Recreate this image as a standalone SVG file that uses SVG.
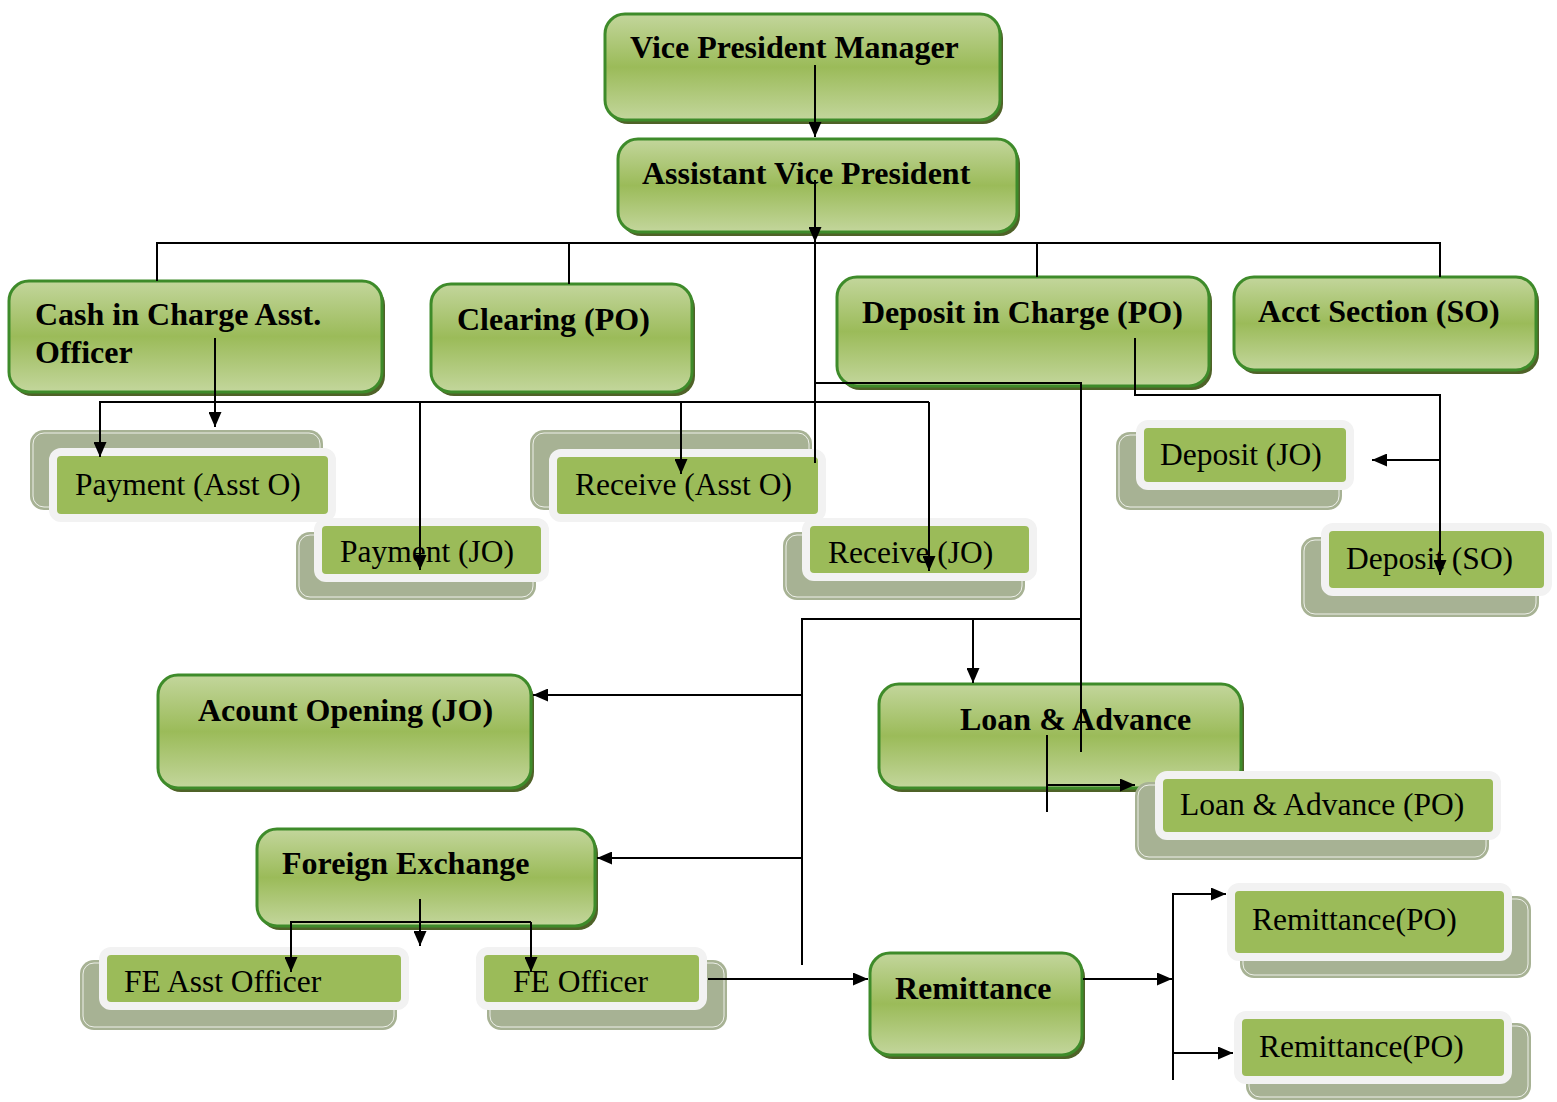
<svg xmlns="http://www.w3.org/2000/svg" width="1557" height="1102" viewBox="0 0 1557 1102">
<defs>
<linearGradient id="g" x1="0" y1="0" x2="0" y2="1">
<stop offset="0" stop-color="#c3d69c"/>
<stop offset="0.5" stop-color="#9bbb59"/>
<stop offset="1" stop-color="#c3d69c"/>
</linearGradient>
<marker id="ar" markerUnits="userSpaceOnUse" markerWidth="15" markerHeight="13" refX="15" refY="6.5" orient="auto">
<path d="M0,0 L15,6.5 L0,13 z" fill="#000"/>
</marker>
</defs>
<style>
.sh{fill:#4f6228}
.mn{fill:url(#g);stroke:#3e8b2a;stroke-width:3}
.bt{font-family:"Liberation Serif","Times New Roman",serif;font-weight:700;font-size:32px;fill:#000}
.rt{font-family:"Liberation Serif","Times New Roman",serif;font-size:31.5px;fill:#000}
.ss{fill:#a7b294}
.si{fill:none;stroke:#fff;stroke-width:0.8}
.gn{fill:#9bbb59;stroke:#f2f2f2;stroke-width:8}
.cn{fill:none;stroke:#000;stroke-width:2}
.ca{fill:none;stroke:#000;stroke-width:2;marker-end:url(#ar)}
</style>
<rect width="1557" height="1102" fill="#fff"/>

<g id="vpm"><rect class="sh" x="608" y="18" width="395" height="106" rx="20"/><rect class="mn" x="605" y="14" width="395" height="106" rx="20"/><text class="bt" x="630" y="58">Vice President Manager</text></g>
<g id="avp"><rect class="sh" x="621" y="143" width="399" height="93" rx="20"/><rect class="mn" x="618" y="139" width="399" height="93" rx="20"/><text class="bt" x="642" y="184">Assistant Vice President</text></g>
<g id="cash"><rect class="sh" x="12" y="285" width="373" height="111" rx="20"/><rect class="mn" x="9" y="281" width="373" height="111" rx="20"/><text class="bt" x="35" y="325">Cash in Charge Asst.</text><text class="bt" x="35" y="363">Officer</text></g>
<g id="clearing"><rect class="sh" x="434" y="288" width="261" height="108" rx="20"/><rect class="mn" x="431" y="284" width="261" height="108" rx="20"/><text class="bt" x="457" y="330">Clearing (PO)</text></g>
<g id="depcharge"><rect class="sh" x="840" y="281" width="372" height="109" rx="20"/><rect class="mn" x="837" y="277" width="372" height="109" rx="20"/><text class="bt" x="862" y="323">Deposit in Charge (PO)</text></g>
<g id="acct"><rect class="sh" x="1237" y="281" width="302" height="93" rx="20"/><rect class="mn" x="1234" y="277" width="302" height="93" rx="20"/><text class="bt" x="1258" y="322">Acct Section (SO)</text></g>
<g id="acopen"><rect class="sh" x="161" y="679" width="373" height="113" rx="20"/><rect class="mn" x="158" y="675" width="373" height="113" rx="20"/><text class="bt" x="198" y="721">Acount Opening (JO)</text></g>
<g id="loan"><rect class="sh" x="882" y="688" width="362" height="104" rx="20"/><rect class="mn" x="879" y="684" width="362" height="104" rx="20"/><text class="bt" x="960" y="730">Loan &amp; Advance</text></g>
<g id="fx"><rect class="sh" x="260" y="833" width="338" height="97" rx="20"/><rect class="mn" x="257" y="829" width="338" height="97" rx="20"/><text class="bt" x="282" y="874">Foreign Exchange</text></g>
<g id="remit"><rect class="sh" x="873" y="957" width="212" height="102" rx="20"/><rect class="mn" x="870" y="953" width="212" height="102" rx="20"/><text class="bt" x="895" y="999">Remittance</text></g>

<g id="payasst"><rect class="ss" x="30" y="430" width="293" height="80" rx="14"/><rect class="si" x="33" y="433" width="287" height="74" rx="11"/><rect class="gn" x="53" y="452" width="279" height="66" rx="8"/><text class="rt" x="75" y="495">Payment (Asst O)</text></g>
<g id="payjo"><rect class="ss" x="296" y="532" width="240" height="68" rx="14"/><rect class="si" x="299" y="535" width="234" height="62" rx="11"/><rect class="gn" x="318" y="522" width="227" height="56" rx="8"/><text class="rt" x="340" y="562">Payment (JO)</text></g>
<g id="recasst"><rect class="ss" x="530" y="430" width="282" height="80" rx="14"/><rect class="si" x="533" y="433" width="276" height="74" rx="11"/><rect class="gn" x="553" y="453" width="269" height="65" rx="8"/><text class="rt" x="575" y="495">Receive (Asst O)</text></g>
<g id="recjo"><rect class="ss" x="783" y="532" width="242" height="68" rx="14"/><rect class="si" x="786" y="535" width="236" height="62" rx="11"/><rect class="gn" x="806" y="522" width="227" height="55" rx="8"/><text class="rt" x="828" y="563">Receive (JO)</text></g>
<g id="depjo"><rect class="ss" x="1116" y="432" width="226" height="78" rx="14"/><rect class="si" x="1119" y="435" width="220" height="72" rx="11"/><rect class="gn" x="1140" y="424" width="210" height="62" rx="8"/><text class="rt" x="1160" y="465">Deposit (JO)</text></g>
<g id="depso"><rect class="ss" x="1301" y="537" width="238" height="80" rx="14"/><rect class="si" x="1304" y="540" width="232" height="74" rx="11"/><rect class="gn" x="1325" y="527" width="223" height="65" rx="8"/><text class="rt" x="1346" y="569">Deposit (SO)</text></g>
<g id="loanpo"><rect class="ss" x="1135" y="782" width="354" height="78" rx="14"/><rect class="si" x="1138" y="785" width="348" height="72" rx="11"/><rect class="gn" x="1159" y="775" width="338" height="61" rx="8"/><text class="rt" x="1180" y="815">Loan &amp; Advance (PO)</text></g>
<g id="feasst"><rect class="ss" x="80" y="960" width="317" height="70" rx="14"/><rect class="si" x="83" y="963" width="311" height="64" rx="11"/><rect class="gn" x="103" y="951" width="302" height="55" rx="8"/><text class="rt" x="124" y="992">FE Asst Officer</text></g>
<g id="feoff"><rect class="ss" x="487" y="960" width="240" height="70" rx="14"/><rect class="si" x="490" y="963" width="234" height="64" rx="11"/><rect class="gn" x="480" y="951" width="223" height="55" rx="8"/><text class="rt" x="513" y="992">FE Officer</text></g>
<g id="rempo1"><rect class="ss" x="1240" y="896" width="291" height="82" rx="14"/><rect class="si" x="1243" y="899" width="285" height="76" rx="11"/><rect class="gn" x="1231" y="887" width="277" height="70" rx="8"/><text class="rt" x="1252" y="930">Remittance(PO)</text></g>
<g id="rempo2"><rect class="ss" x="1246" y="1023" width="285" height="77" rx="14"/><rect class="si" x="1249" y="1026" width="279" height="71" rx="11"/><rect class="gn" x="1238" y="1015" width="270" height="65" rx="8"/><text class="rt" x="1259" y="1057">Remittance(PO)</text></g>

<g id="connectors">
<path class="ca" d="M815,65 V137"/>
<path class="ca" d="M815,180 V242"/>
<path class="cn" d="M815,243 V463"/>
<path class="cn" d="M157,281 V243 H1440 V277"/>
<path class="cn" d="M569,243 V284"/>
<path class="cn" d="M1037,243 V277"/>
<path class="cn" d="M815,383 H1081 V752"/>
<path class="cn" d="M802,965 V619 H1081"/>
<path class="ca" d="M973,619 V683"/>
<path class="ca" d="M802,695 H533"/>
<path class="ca" d="M802,858 H597"/>
<path class="ca" d="M215,338 V427"/>
<path class="ca" d="M929,402 H100 V457"/>
<path class="ca" d="M929,402 V571"/>
<path class="ca" d="M420,402 V570"/>
<path class="ca" d="M681,402 V474"/>
<path class="ca" d="M1135,338 V395 H1440 V575"/>
<path class="ca" d="M1440,460 H1372"/>
<path class="cn" d="M1047,812 V735"/>
<path class="ca" d="M1047,785 H1135"/>
<path class="ca" d="M420,899 V946"/>
<path class="ca" d="M531,922 H291 V972"/>
<path class="ca" d="M531,922 V972"/>
<path class="ca" d="M708,979 H868"/>
<path class="ca" d="M1083,979 H1172"/>
<path class="ca" d="M1173,1080 V894 H1226"/>
<path class="ca" d="M1173,1053 H1233"/>
</g>
</svg>
